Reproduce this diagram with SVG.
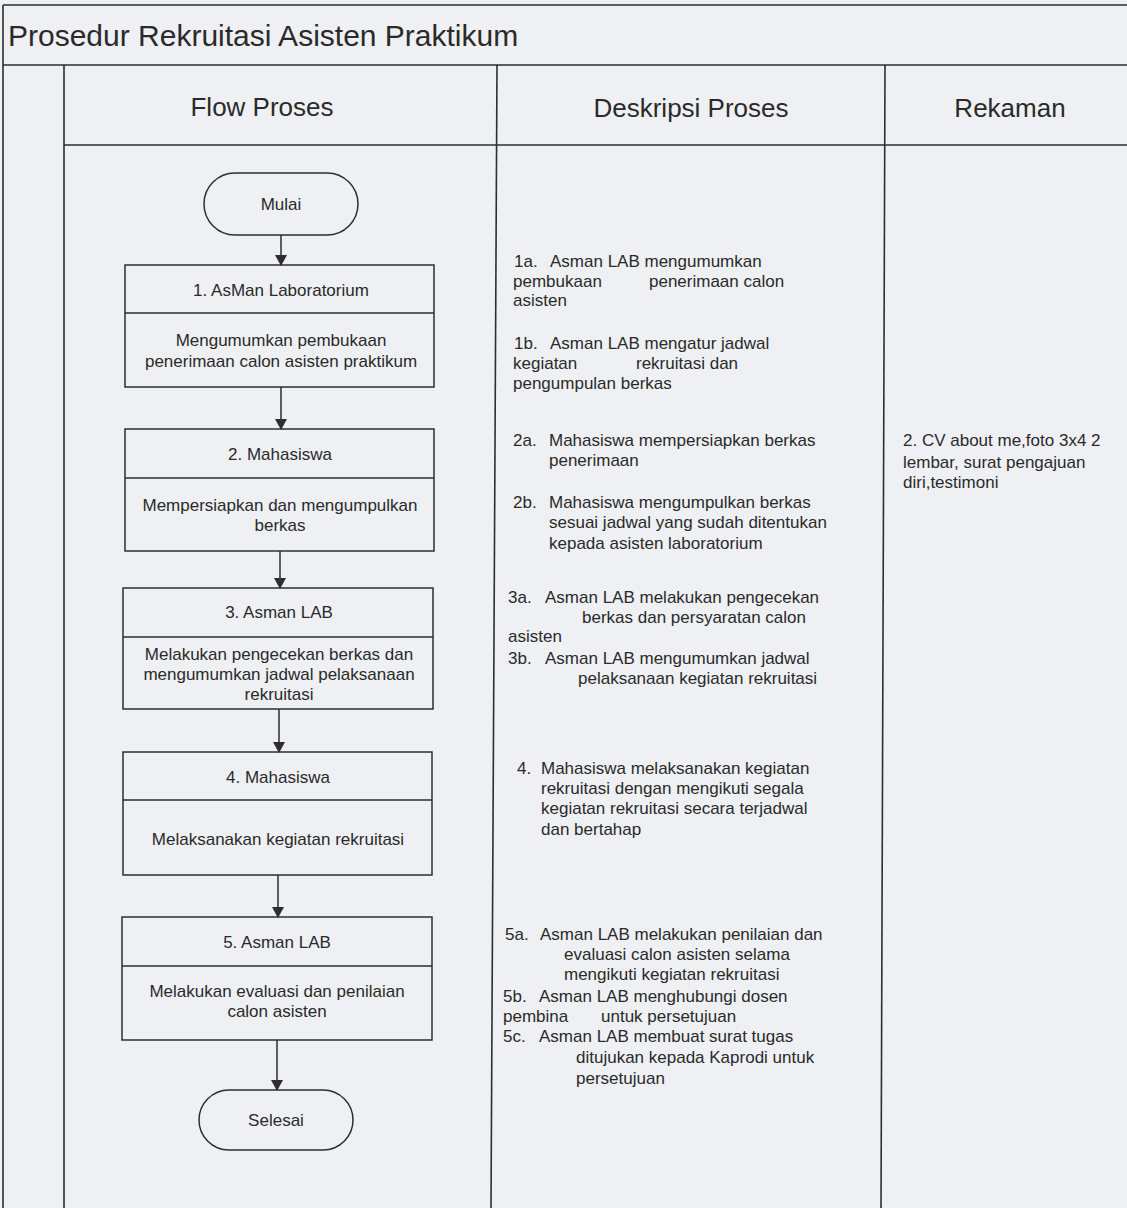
<svg xmlns="http://www.w3.org/2000/svg" width="1127" height="1208" viewBox="0 0 1127 1208">
<style>
.frame{stroke:#2e2e2e;stroke-width:1.6;fill:none}
.box{stroke:#2e2e2e;stroke-width:1.5;fill:none}
.conn{stroke:#2e2e2e;stroke-width:1.5;fill:none;marker-end:url(#ah)}
text{font-family:"Liberation Sans",Arial,sans-serif;fill:#2a2a2a}
.title{font-size:30px}
.hdr{font-size:26px;text-anchor:middle}
.nt{font-size:17px;text-anchor:middle}
.d{font-size:17px}
</style>
<defs>
<marker id="ah" markerWidth="12" markerHeight="12" refX="10" refY="6" orient="auto" markerUnits="userSpaceOnUse">
<path d="M0,0 L11,6 L0,12 Z" fill="#2e2e2e"/>
</marker>
</defs>
<rect x="0" y="0" width="1127" height="1208" fill="#eef0f4"/>
<g id="frame">
<line class="frame" x1="3" y1="5" x2="1127" y2="5"/>
<line class="frame" x1="3" y1="5" x2="3" y2="1208"/>
<line class="frame" x1="3" y1="65" x2="1127" y2="65"/>
<line class="frame" x1="64" y1="65" x2="64" y2="1208"/>
<line class="frame" x1="64" y1="145" x2="1127" y2="145"/>
<line class="frame" x1="497" y1="65" x2="491" y2="1208"/>
<line class="frame" x1="885" y1="65" x2="881" y2="1208"/>
<text class="title" x="8" y="46">Prosedur Rekruitasi Asisten Praktikum</text>
<text class="hdr" x="262" y="116">Flow Proses</text>
<text class="hdr" x="691" y="117">Deskripsi Proses</text>
<text class="hdr" x="1010" y="117">Rekaman</text>
</g>
<g id="connectors">
<line class="conn" x1="281" y1="235" x2="281" y2="265"/>
<line class="conn" x1="281" y1="387" x2="281" y2="429"/>
<line class="conn" x1="280" y1="551" x2="280" y2="588"/>
<line class="conn" x1="279" y1="709" x2="279" y2="752"/>
<line class="conn" x1="278" y1="875" x2="278" y2="917"/>
<line class="conn" x1="277" y1="1040" x2="277" y2="1090"/>
</g>
<g id="mulai">
<rect class="box" x="204" y="173" width="154" height="62" rx="31"/>
<text class="nt" x="281" y="210">Mulai</text>
</g>
<g id="step1">
<rect class="box" x="125" y="265" width="309" height="122"/>
<line class="box" x1="125" y1="313" x2="434" y2="313"/>
<text class="nt" x="281" y="296">1. AsMan Laboratorium</text>
<text class="nt" x="281" y="346">Mengumumkan pembukaan</text>
<text class="nt" x="281" y="367">penerimaan calon asisten praktikum</text>
</g>
<g id="step2">
<rect class="box" x="125" y="429" width="309" height="122"/>
<line class="box" x1="125" y1="478" x2="434" y2="478"/>
<text class="nt" x="280" y="460">2. Mahasiswa</text>
<text class="nt" x="280" y="511">Mempersiapkan dan mengumpulkan</text>
<text class="nt" x="280" y="531">berkas</text>
</g>
<g id="step3">
<rect class="box" x="123" y="588" width="310" height="121"/>
<line class="box" x1="123" y1="637" x2="433" y2="637"/>
<text class="nt" x="279" y="618">3. Asman LAB</text>
<text class="nt" x="279" y="660">Melakukan pengecekan berkas dan</text>
<text class="nt" x="279" y="680">mengumumkan jadwal pelaksanaan</text>
<text class="nt" x="279" y="700">rekruitasi</text>
</g>
<g id="step4">
<rect class="box" x="123" y="752" width="309" height="123"/>
<line class="box" x1="123" y1="800" x2="432" y2="800"/>
<text class="nt" x="278" y="783">4. Mahasiswa</text>
<text class="nt" x="278" y="845">Melaksanakan kegiatan rekruitasi</text>
</g>
<g id="step5">
<rect class="box" x="122" y="917" width="310" height="123"/>
<line class="box" x1="122" y1="966" x2="432" y2="966"/>
<text class="nt" x="277" y="948">5. Asman LAB</text>
<text class="nt" x="277" y="997">Melakukan evaluasi dan penilaian</text>
<text class="nt" x="277" y="1017">calon asisten</text>
</g>
<g id="selesai">
<rect class="box" x="199" y="1090" width="154" height="60" rx="30"/>
<text class="nt" x="276" y="1126">Selesai</text>
</g>
<g id="deskripsi">
<text class="d" y="267"><tspan x="514">1a.</tspan><tspan x="550">Asman LAB mengumumkan</tspan></text>
<text class="d" y="287"><tspan x="513">pembukaan</tspan><tspan x="649">penerimaan calon</tspan></text>
<text class="d" x="513" y="306">asisten</text>
<text class="d" y="349"><tspan x="514">1b.</tspan><tspan x="550">Asman LAB mengatur jadwal</tspan></text>
<text class="d" y="369"><tspan x="513">kegiatan</tspan><tspan x="636">rekruitasi dan</tspan></text>
<text class="d" x="513" y="389">pengumpulan berkas</text>
<text class="d" y="446"><tspan x="513">2a.</tspan><tspan x="549">Mahasiswa mempersiapkan berkas</tspan></text>
<text class="d" x="549" y="466">penerimaan</text>
<text class="d" y="508"><tspan x="513">2b.</tspan><tspan x="549">Mahasiswa mengumpulkan berkas</tspan></text>
<text class="d" x="549" y="528">sesuai jadwal yang sudah ditentukan</text>
<text class="d" x="549" y="549">kepada asisten laboratorium</text>
<text class="d" y="603"><tspan x="508">3a.</tspan><tspan x="545">Asman LAB melakukan pengecekan</tspan></text>
<text class="d" x="582" y="623">berkas dan persyaratan calon</text>
<text class="d" x="508" y="642">asisten</text>
<text class="d" y="664"><tspan x="508">3b.</tspan><tspan x="545">Asman LAB mengumumkan jadwal</tspan></text>
<text class="d" x="578" y="684">pelaksanaan kegiatan rekruitasi</text>
<text class="d" y="774"><tspan x="517">4.</tspan><tspan x="541">Mahasiswa melaksanakan kegiatan</tspan></text>
<text class="d" x="541" y="794">rekruitasi dengan mengikuti segala</text>
<text class="d" x="541" y="814">kegiatan rekruitasi secara terjadwal</text>
<text class="d" x="541" y="835">dan bertahap</text>
<text class="d" y="940"><tspan x="505">5a.</tspan><tspan x="540">Asman LAB melakukan penilaian dan</tspan></text>
<text class="d" x="564" y="960">evaluasi calon asisten selama</text>
<text class="d" x="564" y="980">mengikuti kegiatan rekruitasi</text>
<text class="d" y="1002"><tspan x="503">5b.</tspan><tspan x="539">Asman LAB menghubungi dosen</tspan></text>
<text class="d" y="1022"><tspan x="503">pembina</tspan><tspan x="601">untuk persetujuan</tspan></text>
<text class="d" y="1042"><tspan x="503">5c.</tspan><tspan x="539">Asman LAB membuat surat tugas</tspan></text>
<text class="d" x="576" y="1063">ditujukan kepada Kaprodi untuk</text>
<text class="d" x="576" y="1084">persetujuan</text>
</g>
<g id="rekaman">
<text class="d" x="903" y="446">2. CV about me,foto 3x4 2</text>
<text class="d" x="903" y="468">lembar, surat pengajuan</text>
<text class="d" x="903" y="488">diri,testimoni</text>
</g>
</svg>
